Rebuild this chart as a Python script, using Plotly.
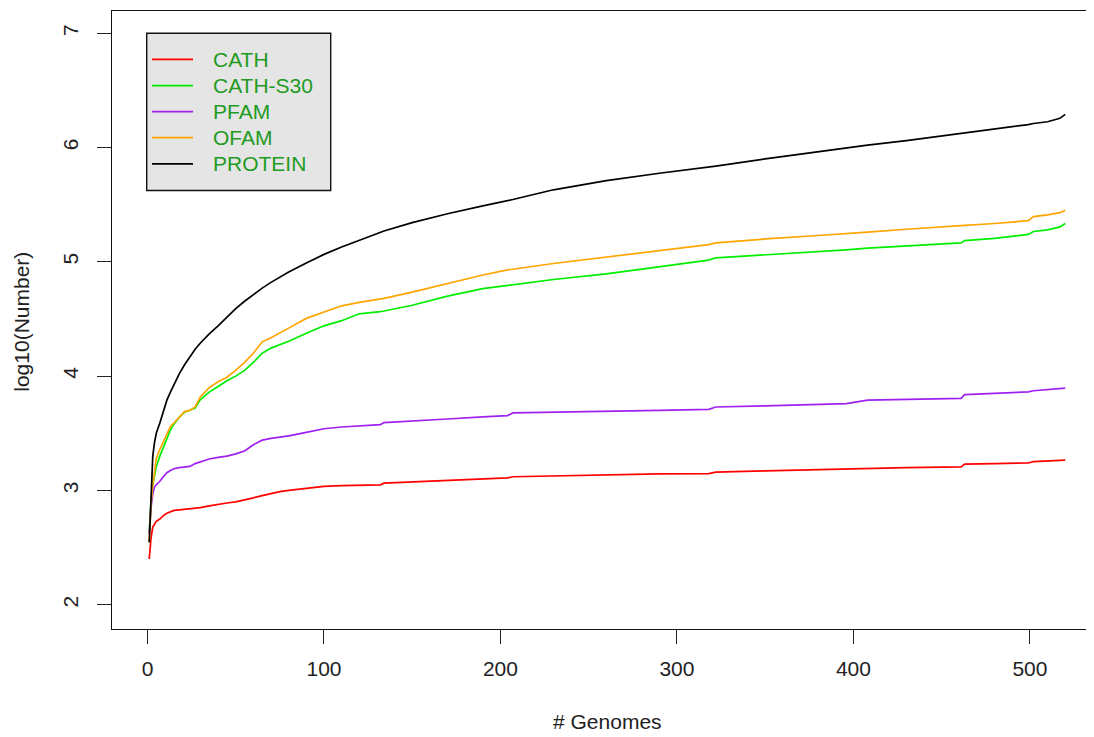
import plotly.graph_objects as go

# ---- data ----
genomes = [1, 2, 3, 4, 5, 7, 9, 11, 13, 15, 18, 21, 24, 27, 30, 35, 40, 45, 50, 55,
           60, 65, 70, 75, 80, 90, 100, 110, 120, 132, 134, 150, 170, 190, 204, 207,
           230, 260, 290, 318, 322, 350, 380, 396, 408, 430, 461, 463, 480, 499, 502,
           510, 517, 520]

cath = [2.40, 2.58, 2.68, 2.71, 2.73, 2.75, 2.78, 2.80, 2.815, 2.825, 2.83, 2.835,
        2.84, 2.845, 2.85, 2.865, 2.88, 2.89, 2.90, 2.915, 2.935, 2.955, 2.975, 2.99,
        3.00, 3.015, 3.035, 3.042, 3.046, 3.049, 3.064, 3.075, 3.088, 3.10, 3.11,
        3.12, 3.128, 3.138, 3.145, 3.148, 3.16, 3.172, 3.183, 3.189, 3.193, 3.199,
        3.206, 3.23, 3.235, 3.24, 3.252, 3.256, 3.26, 3.265]

cath_s30 = [2.64, 2.90, 3.05, 3.14, 3.21, 3.30, 3.38, 3.45, 3.53, 3.58, 3.64, 3.685,
            3.70, 3.72, 3.795, 3.86, 3.91, 3.96, 4.00, 4.05, 4.12, 4.20, 4.245, 4.275,
            4.305, 4.375, 4.44, 4.485, 4.545, 4.565, 4.57, 4.62, 4.70, 4.765, 4.795,
            4.80, 4.845, 4.895, 4.955, 5.015, 5.035, 5.06, 5.09, 5.105, 5.12, 5.14,
            5.165, 5.185, 5.205, 5.24, 5.265, 5.28, 5.305, 5.335]

pfam = [2.62, 2.85, 2.97, 3.03, 3.05, 3.08, 3.12, 3.155, 3.175, 3.19, 3.20, 3.205,
        3.21, 3.235, 3.25, 3.275, 3.29, 3.30, 3.32, 3.345, 3.40, 3.44, 3.455, 3.465,
        3.478, 3.508, 3.54, 3.555, 3.565, 3.576, 3.594, 3.61, 3.625, 3.643, 3.655,
        3.678, 3.683, 3.69, 3.70, 3.71, 3.73, 3.74, 3.752, 3.76, 3.79, 3.797, 3.806,
        3.838, 3.848, 3.862, 3.872, 3.88, 3.888, 3.895]

ofam = [2.55, 2.88, 3.04, 3.15, 3.28, 3.36, 3.43, 3.50, 3.56, 3.59, 3.64, 3.69,
        3.70, 3.73, 3.82, 3.90, 3.95, 3.99, 4.05, 4.12, 4.20, 4.30, 4.335, 4.38,
        4.42, 4.505, 4.56, 4.615, 4.645, 4.675, 4.68, 4.735, 4.81, 4.885, 4.93,
        4.935, 4.985, 5.04, 5.10, 5.15, 5.165, 5.20, 5.23, 5.245, 5.26, 5.285,
        5.31, 5.318, 5.335, 5.36, 5.395, 5.41, 5.43, 5.45]

protein = [2.545, 3.00, 3.30, 3.42, 3.50, 3.59, 3.70, 3.79, 3.86, 3.93, 4.02, 4.10,
           4.17, 4.235, 4.29, 4.37, 4.44, 4.515, 4.59, 4.655, 4.715, 4.77, 4.82, 4.865,
           4.91, 4.99, 5.065, 5.13, 5.19, 5.26, 5.27, 5.343, 5.42, 5.49, 5.535, 5.545,
           5.63, 5.71, 5.775, 5.83, 5.837, 5.90, 5.965, 5.995, 6.02, 6.06, 6.12,
           6.125, 6.16, 6.20, 6.21, 6.225, 6.255, 6.29]

series_names = ["CATH", "CATH-S30", "PFAM", "OFAM", "PROTEIN"]
series_values = [cath, cath_s30, pfam, ofam, protein]
series_colors = ["#ff0000", "#00ee00", "#a020f0", "#ffa500", "#000000"]

x_ticks = [0, 100, 200, 300, 400, 500]
y_ticks = [2, 3, 4, 5, 6, 7]

# ---- layout geometry (reference-window pixels; page body adds an 8px offset) ----
OFF = 8
W, H = 1094 - OFF, 737 - OFF
PLOT_L, PLOT_T, PLOT_B = 112, 11, 629.5          # in window pixels
L, T = PLOT_L - OFF, PLOT_T - OFF
B = H - (PLOT_B - OFF)
R = 0
PW, PH = W - L - R, H - T - B


def px(xw):
    return (xw - OFF - L) / PW


def py(yw):
    return (H - B - (yw - OFF)) / PH


FONT = "Liberation Sans, Arial, Helvetica, sans-serif"

fig = go.Figure()
for name, vals, col in zip(series_names, series_values, series_colors):
    fig.add_trace(go.Scatter(x=genomes, y=vals, mode="lines", name=name,
                             line=dict(color=col, width=1.7), showlegend=False))

axis_common = dict(showgrid=False, zeroline=False, showline=True, linecolor="#111",
                   linewidth=1.4, ticks="outside", ticklen=14, tickwidth=1.3,
                   tickcolor="#222", tickfont=dict(family=FONT, size=21, color="#222"))

fig.update_xaxes(range=[-20.1, 536.3], tickvals=x_ticks, mirror=True,
                 ticklabelstandoff=7, **axis_common)
fig.update_yaxes(range=[1.788, 7.194], tickvals=y_ticks, tickangle=-90,
                 ticklabelstandoff=10, **axis_common)

shapes = []
annotations = []
# legend box
shapes.append(dict(type="rect", xref="paper", yref="paper",
                   x0=px(146.7), x1=px(330.7), y0=py(190.7), y1=py(33.3),
                   fillcolor="#e5e5e5", line=dict(color="#111", width=1.4), layer="above"))
item_y = [59.5, 85.6, 111.7, 137.8, 163.9]
for name, col, yy in zip(series_names, series_colors, item_y):
    shapes.append(dict(type="line", xref="paper", yref="paper",
                       x0=px(152), x1=px(193), y0=py(yy), y1=py(yy),
                       line=dict(color=col, width=1.7), layer="above"))
    annotations.append(dict(text=name, xref="paper", yref="paper", x=px(211), y=py(yy),
                            xanchor="left", yanchor="middle", showarrow=False,
                            font=dict(family=FONT, size=21, color="#1f9b1f")))

annotations.append(dict(text="# Genomes", xref="paper", yref="paper", x=px(607), y=py(722),
                        xanchor="center", yanchor="middle", showarrow=False,
                        font=dict(family=FONT, size=21, color="#222")))
annotations.append(dict(text="log10(Number)", xref="paper", yref="paper", x=px(22), y=py(322),
                        xanchor="center", yanchor="middle", showarrow=False, textangle=-90,
                        font=dict(family=FONT, size=21, color="#222")))

fig.update_layout(width=W, height=H, margin=dict(l=L, r=R, t=T, b=B, pad=0),
                  plot_bgcolor="white", paper_bgcolor="white",
                  shapes=shapes, annotations=annotations, showlegend=False)

fig.write_html("out.html")
